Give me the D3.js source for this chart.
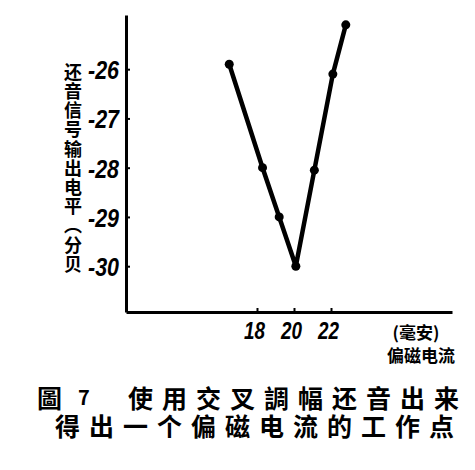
<!DOCTYPE html>
<html>
<head>
<meta charset="utf-8">
<script src="https://cdn.jsdelivr.net/npm/d3@7"></script>
<style>
  body { margin: 0; background: #fff; }
  svg { display: block; }
</style>
</head>
<body>
<svg></svg>
<script>
// bias current (mA) vs playback output level (dB)
const current = [16.5, 18.3, 19.2, 20.1, 21.1, 22.1, 22.8];
const level = [-25.9, -28.0, -29.0, -30.0, -28.05, -26.1, -25.1];

const xTicks = [18, 20, 22];
const yTicks = [-26, -27, -28, -29, -30];

const yTitle = '还音信号输出电平（分贝';
const xUnit = '(毫安)';
const xTitle = '偏磁电流';
const caption1 = '使用交叉調幅还音出来';
const caption2 = '得出一个偏磁电流的工作点';

const size = {w: 475, h: 470};
const svg = d3.select('svg')
    .attr('width', size.w)
    .attr('height', size.h);

const x = d3.scaleLinear().domain([10.92, 28.54]).range([126, 452]);
const y = d3.scaleLinear().domain([-30.93, -24.9]).range([312, 15]);

const numFont = '"Liberation Sans", "DejaVu Sans", sans-serif';
const cjkFont = '"Noto Sans CJK SC", "Noto Sans CJK TC", sans-serif';

// axes
const yAxis = svg.append('g')
    .attr('transform', `translate(${x.range()[0]},0)`)
    .call(d3.axisLeft(y).tickValues(yTicks).tickFormat(d => String(d))
        .tickSizeInner(-4).tickSizeOuter(0).tickPadding(7));

const xAxis = svg.append('g')
    .attr('transform', `translate(0,${y.range()[0]})`)
    .call(d3.axisBottom(x).tickValues(xTicks).tickFormat(d => String(d))
        .tickSizeInner(-4).tickSizeOuter(0).tickPadding(8));

[yAxis, xAxis].forEach(g => {
    g.select('.domain').attr('stroke', '#000').attr('stroke-width', 3);
    g.selectAll('.tick line').attr('stroke', '#000').attr('stroke-width', 2);
    g.selectAll('.tick text')
        .attr('fill', '#000')
        .attr('lengthAdjust', 'spacingAndGlyphs')
        .style('font-family', numFont)
        .style('font-style', 'italic')
        .style('font-weight', 'bold');
});
yAxis.selectAll('.tick text')
    .style('font-size', '26px')
    .attr('dy', '0.36em')
    .attr('textLength', 31);
xAxis.selectAll('.tick text')
    .style('font-size', '24px')
    .attr('dy', '0.78em')
    .attr('dx', -3)
    .attr('textLength', 21);

// curve
const line = d3.line()
    .x((d, i) => x(current[i]))
    .y(d => y(d));

svg.append('path')
    .datum(level)
    .attr('fill', 'none')
    .attr('stroke', '#000')
    .attr('stroke-width', 4.5)
    .attr('stroke-linejoin', 'round')
    .attr('stroke-linecap', 'round')
    .attr('d', line);

svg.append('g')
    .selectAll('circle')
    .data(level)
    .join('circle')
    .attr('cx', (d, i) => x(current[i]))
    .attr('cy', d => y(d))
    .attr('r', 4.5)
    .attr('fill', '#000');

// y title, vertical
svg.append('text')
    .attr('x', 73)
    .attr('y', 63)
    .style('writing-mode', 'vertical-rl')
    .style('font-family', cjkFont)
    .style('font-weight', 'bold')
    .style('font-size', '18px')
    .style('letter-spacing', '1.2px')
    .text(yTitle);

// x unit and title
svg.append('text')
    .attr('x', 416)
    .attr('y', 339)
    .attr('text-anchor', 'middle')
    .style('font-family', cjkFont)
    .style('font-weight', 'bold')
    .style('font-size', '17px')
    .text(xUnit);

svg.append('text')
    .attr('x', 421)
    .attr('y', 362)
    .attr('text-anchor', 'middle')
    .style('font-family', cjkFont)
    .style('font-weight', 'bold')
    .style('font-size', '17px')
    .text(xTitle);

// caption, two lines in one text block
const cap = svg.append('text')
    .style('font-family', cjkFont)
    .style('font-weight', 'bold')
    .style('font-size', '25px');

cap.append('tspan').attr('x', 37).attr('y', 408).text('圖');
cap.append('tspan').attr('x', 78).attr('y', 405).style('font-size', '20px').text('7');
cap.append('tspan').attr('x', 128).attr('y', 408).style('letter-spacing', '9px').text(caption1);
cap.append('tspan').attr('x', 55).attr('y', 436).style('letter-spacing', '9px').text(caption2);
</script>
</body>
</html>
